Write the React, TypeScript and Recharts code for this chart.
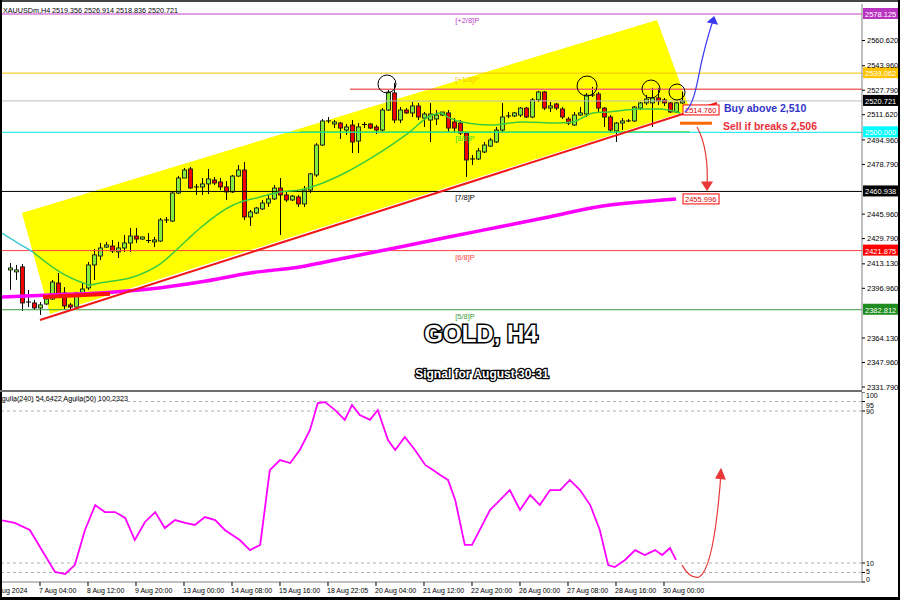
import React from "react";
import {
  ComposedChart,
  LineChart,
  Bar,
  Line,
  XAxis,
  YAxis,
  ReferenceLine,
  ReferenceDot,
  ReferenceArea,
} from "recharts";

document.body.style.margin = "0";

// H4 bars, numbered from 6 Aug 2024 00:00 (bar 0)
const opens = [
  2409.1, 2407.8, 2411.1, 2387.9, 2387.3, 2384.0, 2386.6, 2389.9, 2400.5, 2393.9,
  2386.0, 2384.6, 2393.9, 2397.2, 2412.4, 2418.3, 2424.2, 2424.9, 2421.0, 2423.6,
  2426.9, 2431.5, 2429.5, 2428.2, 2427.6, 2428.2, 2441.8, 2441.4, 2459.9, 2469.8,
  2475.8, 2463.9, 2463.9, 2465.9, 2468.5, 2467.2, 2463.9, 2460.6, 2471.1, 2475.1,
  2444.1, 2446.7, 2449.4, 2453.3, 2456.0, 2463.2, 2458.6, 2455.3, 2457.3, 2452.7,
  2461.9, 2471.8, 2491.6, 2507.5, 2505.5, 2506.1, 2501.5, 2504.8, 2494.2, 2504.8,
  2505.5, 2503.5, 2501.5, 2514.7, 2526.0, 2508.1, 2514.7, 2512.8, 2517.4, 2509.4,
  2508.1, 2508.8, 2511.4, 2512.8, 2506.8, 2506.1, 2499.5, 2482.4, 2482.4, 2487.0,
  2490.9, 2493.6, 2501.5, 2510.8, 2510.8, 2511.4, 2516.0, 2510.1, 2521.4, 2526.6,
  2516.0, 2518.7, 2515.4, 2508.8, 2504.8, 2511.4, 2512.1, 2524.6, 2525.3, 2516.0,
  2510.1, 2500.9, 2506.1, 2507.5, 2507.5, 2516.0, 2519.4, 2519.4, 2522.7, 2521.4,
  2519.4, 2513.4, 2519.356,
];
const highs = [
  2413.7, 2412.4, 2413.0, 2395.9, 2389.3, 2387.9, 2391.2, 2402.5, 2407.1, 2397.8,
  2387.3, 2394.5, 2400.5, 2414.4, 2422.9, 2426.9, 2427.6, 2428.9, 2427.6, 2432.2,
  2436.8, 2436.8, 2430.9, 2433.5, 2430.9, 2443.4, 2444.1, 2460.6, 2471.1, 2476.4,
  2477.1, 2465.9, 2469.8, 2475.8, 2470.5, 2469.8, 2467.8, 2471.8, 2478.4, 2480.4,
  2448.7, 2450.7, 2455.3, 2458.6, 2465.2, 2469.8, 2460.6, 2458.6, 2458.6, 2464.5,
  2473.1, 2492.9, 2508.8, 2510.1, 2508.1, 2506.8, 2505.5, 2508.1, 2506.1, 2506.8,
  2506.1, 2504.8, 2516.0, 2528.0, 2532.6, 2516.7, 2516.0, 2520.0, 2519.4, 2513.4,
  2519.4, 2514.7, 2513.4, 2514.7, 2509.4, 2508.1, 2500.2, 2485.0, 2489.6, 2493.6,
  2496.2, 2503.5, 2519.4, 2513.4, 2513.4, 2516.7, 2516.7, 2522.7, 2527.3, 2527.3,
  2520.0, 2519.4, 2516.7, 2510.1, 2513.4, 2516.7, 2525.9, 2529.9, 2526.6, 2516.7,
  2511.4, 2506.8, 2509.4, 2508.8, 2517.4, 2520.0, 2524.6, 2529.3, 2529.3, 2522.7,
  2520.0, 2520.0, 2526.914,
];
const lows = [
  2395.9, 2402.5, 2382.0, 2384.6, 2382.7, 2379.4, 2386.0, 2389.3, 2391.2, 2383.3,
  2383.3, 2383.3, 2392.6, 2395.9, 2402.5, 2415.7, 2423.6, 2420.3, 2417.0, 2421.0,
  2421.0, 2426.9, 2428.9, 2426.9, 2424.2, 2427.6, 2440.1, 2440.8, 2459.2, 2469.8,
  2462.6, 2458.6, 2458.6, 2459.2, 2465.2, 2461.9, 2455.3, 2459.9, 2470.5, 2442.1,
  2438.1, 2446.0, 2448.7, 2450.7, 2455.3, 2432.2, 2454.0, 2454.6, 2450.7, 2450.7,
  2459.9, 2470.5, 2490.9, 2506.1, 2502.8, 2495.6, 2498.2, 2486.3, 2486.3, 2502.8,
  2502.2, 2498.9, 2500.2, 2514.1, 2506.1, 2506.1, 2512.1, 2510.1, 2508.1, 2503.5,
  2493.6, 2504.8, 2510.8, 2500.2, 2499.5, 2498.2, 2470.5, 2478.4, 2481.7, 2486.3,
  2490.3, 2492.9, 2500.2, 2509.4, 2510.1, 2510.1, 2509.4, 2509.4, 2520.0, 2514.7,
  2513.4, 2514.7, 2508.8, 2504.8, 2504.2, 2510.8, 2510.1, 2523.3, 2513.4, 2503.5,
  2500.2, 2493.6, 2501.5, 2506.8, 2506.8, 2514.7, 2518.0, 2503.5, 2518.0, 2517.4,
  2512.8, 2512.8, 2518.836,
];
const closes = [
  2410.4, 2409.1, 2387.3, 2387.3, 2384.0, 2386.0, 2389.9, 2401.1, 2392.6, 2385.3,
  2384.6, 2393.9, 2396.5, 2412.4, 2419.0, 2423.6, 2425.6, 2421.6, 2423.6, 2426.9,
  2431.5, 2429.5, 2430.9, 2428.5, 2428.9, 2442.1, 2442.1, 2459.9, 2469.8, 2475.1,
  2463.2, 2463.5, 2465.9, 2469.2, 2466.5, 2463.9, 2460.6, 2471.1, 2475.1, 2444.1,
  2447.4, 2450.0, 2453.3, 2456.0, 2463.2, 2458.6, 2455.3, 2457.9, 2452.7, 2461.9,
  2472.5, 2491.6, 2507.5, 2507.1, 2506.8, 2502.8, 2503.5, 2493.6, 2503.5, 2505.1,
  2502.8, 2501.5, 2514.7, 2526.6, 2508.1, 2514.7, 2512.8, 2517.4, 2510.1, 2512.1,
  2512.1, 2511.4, 2513.4, 2502.8, 2502.8, 2499.5, 2481.7, 2482.0, 2487.7, 2491.6,
  2494.9, 2501.5, 2510.1, 2510.4, 2512.8, 2516.0, 2510.1, 2521.4, 2526.6, 2516.0,
  2517.4, 2516.0, 2510.1, 2506.1, 2511.4, 2512.8, 2524.6, 2524.3, 2516.0, 2510.1,
  2501.5, 2506.1, 2507.5, 2507.1, 2516.7, 2519.4, 2522.0, 2522.7, 2520.7, 2519.4,
  2513.4, 2519.4, 2520.721,
];
const candles = opens.map((o, i) => ({ n: i + 2, o, h: highs[i], l: lows[i], c: closes[i] }));

// moving averages (bar number, price)
const cyanMaPos = [0.33, 3, 5.8];
const cyanMaVal = [2434.2, 2427.6, 2421.0];
const greenMaPos = [5.8, 10.3, 14.2, 15.3, 17, 22.5, 27, 31.5, 33.7, 39.2, 43.7, 47, 50.3, 53.7, 57.8, 62.5, 68.2, 72, 73.7, 75.3, 78.2, 82, 87.5, 93.2, 95.8, 99.2, 101.5, 107, 110.3, 113.7];
const greenMaVal = [2421.0, 2407.8, 2400.5, 2399.2, 2400.5, 2404.4, 2413.0, 2428.9, 2436.8, 2452.0, 2457.3, 2460.6, 2461.9, 2465.9, 2473.1, 2483.7, 2498.9, 2510.8, 2512.8, 2509.4, 2506.1, 2504.8, 2506.8, 2506.1, 2506.8, 2512.8, 2513.4, 2515.4, 2515.4, 2512.8];
const slowMaPos = [0.33, 8.67, 17, 25.3, 33.7, 42, 50.3, 57.8, 67, 75.3, 83.7, 92, 99.8, 106, 113];
const slowMaVal = [2391.2, 2392.6, 2393.9, 2396.5, 2401.1, 2407.1, 2411.1, 2417.0, 2424.3, 2431.0, 2437.6, 2444.2, 2450.7, 2453.6, 2456.0];

// indicator (Aguila) values
const indPos = [0.33, 2.8, 5.3, 7.8, 9.5, 11.2, 12.8, 14.5, 16.2, 17.8, 19.5, 21.2, 22.8, 24.5, 26.2, 27.8, 29.5, 31.2, 32.8, 34.5, 36.2, 37.8, 40.3, 42, 43.7, 45.3, 47, 48.7, 50.3, 52, 53.3, 54.5, 56.2, 57.8, 59, 60.3, 62, 63.3, 65, 66.2, 67.8, 69.5, 71.2, 72.5, 73.7, 75, 76.2, 77.8, 79, 80.3, 82, 83.7, 85.3, 87, 88.7, 90.3, 92, 93.7, 95.3, 97, 98.7, 100.3, 101.7, 102.8, 104.5, 106.2, 107.8, 109.5, 110.7, 112, 113];
const indVal = [32.6, 31.1, 27.4, 14.2, 5.3, 4.2, 8.9, 27.4, 40.5, 36.8, 36.8, 33.7, 22.1, 31.6, 36.8, 28.4, 32.6, 31.1, 30.0, 34.2, 32.6, 27.4, 22.1, 16.8, 19.5, 58.9, 64.2, 62.6, 69.5, 80.0, 94.2, 94.7, 90.5, 85.3, 93.2, 87.9, 85.3, 90.5, 74.7, 69.5, 76.3, 69.5, 61.6, 58.9, 56.3, 53.7, 43.2, 19.5, 19.5, 27.4, 37.9, 43.2, 48.4, 37.9, 45.8, 40.5, 48.4, 48.4, 53.7, 48.4, 40.5, 27.4, 8.9, 7.9, 11.6, 16.8, 14.2, 16.8, 14.2, 17.9, 11.6];

const priceTicks = [2560.62, 2543.96, 2527.79, 2511.62, 2494.96, 2478.79, 2445.96, 2429.79, 2413.13, 2396.96, 2364.13, 2347.96, 2331.79];
const timeTickPos = [0.667, 7, 15, 23, 31, 39, 47, 55, 63, 71, 79, 87, 95, 103, 111];
const timeTickLabels = ["6 Aug 2024", "7 Aug 04:00", "8 Aug 12:00", "9 Aug 20:00", "13 Aug 00:00", "14 Aug 08:00", "15 Aug 16:00", "18 Aug 22:05", "20 Aug 04:00", "21 Aug 12:00", "22 Aug 20:00", "26 Aug 00:00", "27 Aug 08:00", "28 Aug 16:00", "30 Aug 00:00"];
const indTicks = [0, 5, 10, 90, 95, 100];

// Murrey levels
const levelPrices = [2578.125, 2539.062, 2460.938, 2421.875, 2382.812];
const levelNames = ["[+2/8]P", "[+1/8]P", "[7/8]P", "[6/8]P", "[5/8]P"];
const levelColors = ["#C23CC8", "#F2C200", "#000000", "#FF4040", "#3A9A3A"];
const levelBoxColors = ["#B833C0", "#FFC400", "#000000", "#FF0000", "#1E8C1E"];

// channel polygon and trend line (bar number, price)
const channelPos = [4, 109.83, 115.33, 8.67];
const channelVal = [2446.7, 2574.16, 2514.73, 2380.0];
const trendPos = [7, 119.83];
const trendVal = [2376.04, 2519.35];
const circlePos = [64.83, 98.17, 108.83, 113.17];
const circleVal = [2531.9, 2530.57, 2528.59, 2526.61];
const circleR = [9, 10, 9, 8];

const X0 = 0.667;
const X1 = 144;
const P0 = 2329.81;
const P1 = 2584.73;
const FONT = "'Liberation Sans', Arial, sans-serif";

const toPts = (pos: number[], val: number[]) => pos.map((n, i) => ({ n, v: val[i] }));

const Candle = (props: any) => {
  const { x, y, width, height, payload } = props;
  const { o, h, l, c } = payload;
  const span = h - l || 1;
  const py = (v: number) => y + ((h - v) / span) * height;
  const cx = Math.round(x + width / 2) + 0.5;
  const top = py(Math.max(o, c));
  const bot = py(Math.min(o, c));
  const up = c >= o;
  return (
    <g>
      <line x1={cx} x2={cx} y1={y} y2={y + height} stroke="#000" strokeWidth={1} />
      {bot - top < 1.2 ? (
        <line x1={cx - 2.5} x2={cx + 2.5} y1={top} y2={top} stroke="#000" strokeWidth={1} />
      ) : (
        <rect x={cx - 2} y={top} width={4} height={bot - top} fill={up ? "#86EE3A" : "#F20000"} stroke="#1a1a1a" strokeWidth={0.9} />
      )}
    </g>
  );
};

const AxisBox = (props: any) => {
  const { viewBox, bg, text, fg } = props;
  const x = viewBox.x + viewBox.width + 1;
  const y = viewBox.y;
  return (
    <g>
      <rect x={x} y={y - 6} width={36} height={11} fill={bg} />
      <text x={x + 2} y={y + 3} fontSize={7.5} fill={fg || "#fff"} fontFamily={FONT}>{text}</text>
    </g>
  );
};

const TimeTick = (props: any) => {
  const { x, y, payload } = props;
  const i = timeTickPos.indexOf(payload.value);
  const first = i === 0;
  return (
    <g>
      {!first && <line x1={x} x2={x} y1={y} y2={y + 4} stroke="#000" />}
      <text x={first ? x - 10 : x - 1} y={y + 11} fontSize={7} fill="#000" fontFamily={FONT}>{timeTickLabels[i]}</text>
    </g>
  );
};

const IndTick = (props: any) => {
  const { x, y, payload } = props;
  const v = payload.value;
  const dy = v === 100 ? 3 : v === 95 ? 3 : v === 5 ? -1.5 : v === 0 ? -3 : 0;
  return (
    <text x={x} y={y + dy + 3} fontSize={7} fill="#000" fontFamily={FONT}>{v}</text>
  );
};

const ChannelShape = (props: any) => {
  const { x, y, width, height } = props;
  const nMin = Math.min(...channelPos);
  const nMax = Math.max(...channelPos);
  const pMin = Math.min(...channelVal);
  const pMax = Math.max(...channelVal);
  const pts = channelPos
    .map((n, i) => {
      const px = x + ((n - nMin) / (nMax - nMin)) * width;
      const py = y + ((pMax - channelVal[i]) / (pMax - pMin)) * height;
      return `${px},${py}`;
    })
    .join(" ");
  return <polygon points={pts} fill="#FFFF00" stroke="none" />;
};

const TrendBox = (text: string) => (props: any) => {
  const { cx, cy } = props;
  return (
    <g>
      <rect x={cx} y={cy - 5} width={36} height={10} fill="#fff" stroke="#FF0000" strokeWidth={1} />
      <text x={cx + 2} y={cy + 3} fontSize={7.5} fill="#E00000" fontFamily={FONT}>{text}</text>
    </g>
  );
};

const LevelText = (text: string, color: string) => (props: any) => (
  <text x={props.cx} y={props.cy + 9} fontSize={7.5} fill={color} fontFamily={FONT}>{text}</text>
);

const BlueArrow = (props: any) => {
  const { cx, cy } = props;
  return (
    <g fill="none" stroke="#3838F0" strokeWidth={1.2}>
      <path d={`M${cx},${cy} C${cx + 10},${cy - 8} ${cx + 13},${cy - 35} ${cx + 17},${cy - 52} S${cx + 26},${cy - 86} ${cx + 29},${cy - 94}`} />
      <path d={`M${cx + 29},${cy - 95} l-6,5 l9,2 z`} fill="#3838F0" />
    </g>
  );
};

const RedArrowDown = (props: any) => {
  const { cx, cy } = props;
  return (
    <g fill="none" stroke="#E83838" strokeWidth={1.2}>
      <path d={`M${cx},${cy} Q${cx + 12},${cy + 22} ${cx + 10},${cy + 60}`} />
      <path d={`M${cx + 10},${cy + 63} l-5,-8 l10,0 z`} fill="#E83838" />
    </g>
  );
};

const RedArrowUp = (props: any) => {
  const { cx, cy } = props;
  return (
    <g fill="none" stroke="#E83838" strokeWidth={1.2}>
      <path d={`M${cx},${cy} Q${cx + 8},${cy + 14} ${cx + 17},${cy + 12} Q${cx + 32},${cy + 4} ${cx + 39},${cy - 92}`} />
      <path d={`M${cx + 39},${cy - 96} l-5,9 l9,1 z`} fill="#E83838" />
    </g>
  );
};

export default function App() {
  return (
    <div style={{ position: "relative", width: 900, height: 600, background: "#fff", overflow: "hidden", fontFamily: FONT }}>
      <div style={{ position: "absolute", left: 0, top: 0 }}>
        <ComposedChart width={900} height={392} data={candles} margin={{ top: 4, right: 2, bottom: 2, left: 2 }}>
          <XAxis dataKey="n" type="number" domain={[X0, X1]} hide allowDataOverflow />
          <YAxis
            orientation="right"
            width={36}
            type="number"
            domain={[P0, P1]}
            allowDataOverflow
            ticks={priceTicks}
            interval={0}
            tickFormatter={(v: number) => v.toFixed(3)}
            tick={{ fontSize: 7.5, fill: "#000", fontFamily: FONT }}
            tickSize={3}
            tickMargin={2}
            tickLine={{ stroke: "#000" }}
            axisLine={{ stroke: "#808080" }}
          />
          <ReferenceArea
            x1={Math.min(...channelPos)}
            x2={Math.max(...channelPos)}
            y1={Math.min(...channelVal)}
            y2={Math.max(...channelVal)}
            shape={ChannelShape}
            ifOverflow="visible"
          />
          {levelPrices.map((p, i) => (
            <ReferenceLine
              key={`lv${i}`}
              y={p}
              stroke={levelColors[i]}
              strokeWidth={1}
              label={(lp: any) => <AxisBox {...lp} bg={levelBoxColors[i]} text={p.toFixed(3)} />}
            />
          ))}
          <ReferenceLine y={2500} stroke="#00E5EE" strokeWidth={1} label={(lp: any) => <AxisBox {...lp} bg="#00FFFF" text="2500.000" />} />
          <ReferenceLine segment={[{ x: 50.3, y: 2500.3 }, { x: 115.3, y: 2500.3 }]} stroke="#33DD33" strokeWidth={1} />
          <ReferenceLine y={2520.721} stroke="#BDBDBD" strokeWidth={1} label={(lp: any) => <AxisBox {...lp} bg="#000" text="2520.721" />} />
          <ReferenceLine segment={[{ x: 58.67, y: 2528.5 }, { x: X1, y: 2528.5 }]} stroke="#F06A6A" strokeWidth={1.5} />
          {levelPrices.map((p, i) => (
            <ReferenceDot key={`lt${i}`} x={76.2} y={p} r={0} shape={LevelText(levelNames[i], levelColors[i])} />
          ))}
          <ReferenceDot x={76.2} y={2500} r={0} shape={LevelText("[8/8]P", "#33DD33")} />
          <Line data={toPts(slowMaPos, slowMaVal)} dataKey="v" type="monotone" stroke="#FF00FF" strokeWidth={3.5} dot={false} isAnimationActive={false} />
          <Line data={toPts(cyanMaPos, cyanMaVal)} dataKey="v" type="monotone" stroke="#3CC8D2" strokeWidth={1.5} dot={false} isAnimationActive={false} />
          <Line data={toPts(greenMaPos, greenMaVal)} dataKey="v" type="monotone" stroke="#3CCB3C" strokeWidth={1.5} dot={false} isAnimationActive={false} />
          <ReferenceLine segment={[{ x: 7.5, y: 2391.2 }, { x: 18.67, y: 2393.4 }]} stroke="#FF1010" strokeWidth={4} />
          <ReferenceLine segment={[{ x: trendPos[0], y: trendVal[0] }, { x: trendPos[1], y: trendVal[1] }]} stroke="#F01818" strokeWidth={2} />
          <Bar dataKey={(d: any) => [d.l, d.h]} barSize={5} shape={Candle} isAnimationActive={false} />
          {circlePos.map((n, i) => (
            <ReferenceDot key={`c${i}`} x={n} y={circleVal[i]} r={circleR[i]} fill="none" stroke="#000" strokeWidth={1} />
          ))}
          <ReferenceLine segment={[{ x: 113.67, y: 2506 }, { x: 119, y: 2506 }]} stroke="#FF6A00" strokeWidth={3} />
          <ReferenceDot x={114.17} y={2514.76} r={0} shape={TrendBox("2514.760")} />
          <ReferenceDot x={114.17} y={2455.996} r={0} shape={TrendBox("2455.996")} />
          <ReferenceDot x={114.5} y={2513.4} r={0} shape={BlueArrow} />
          <ReferenceDot x={116.5} y={2503.5} r={0} shape={RedArrowDown} />
        </ComposedChart>
      </div>
      <div style={{ position: "absolute", left: 0, top: 392 }}>
        <LineChart width={900} height={208} data={toPts(indPos, indVal)} margin={{ top: 0, right: 2, bottom: 0, left: 2 }}>
          <XAxis
            dataKey="n"
            type="number"
            domain={[X0, X1]}
            allowDataOverflow
            ticks={timeTickPos}
            interval={0}
            height={18}
            tickSize={0}
            tickMargin={0}
            tick={TimeTick}
            tickLine={false}
            axisLine={{ stroke: "#808080" }}
          />
          <YAxis
            orientation="right"
            width={36}
            type="number"
            domain={[0, 100]}
            ticks={indTicks}
            interval={0}
            tick={IndTick}
            tickSize={3}
            tickMargin={1}
            tickLine={{ stroke: "#000" }}
            axisLine={{ stroke: "#808080" }}
          />
          {[95, 90, 10, 5].map((v) => (
            <ReferenceLine key={v} y={v} stroke="#B0B0B0" strokeDasharray="3 3" />
          ))}
          <Line dataKey="v" type="linear" stroke="#FF00FF" strokeWidth={1.8} dot={false} isAnimationActive={false} />
          <ReferenceDot x={114} y={8.9} r={0} shape={RedArrowUp} />
        </LineChart>
      </div>
      <svg width={900} height={600} style={{ position: "absolute", left: 0, top: 0, pointerEvents: "none" }}>
        <line x1={0} x2={900} y1={1} y2={1} stroke="#444" strokeWidth={2} />
        <line x1={1} x2={1} y1={0} y2={600} stroke="#000" strokeWidth={2} />
        <line x1={0} x2={900} y1={598.5} y2={598.5} stroke="#000" strokeWidth={3} />
        <line x1={899} x2={899} y1={0} y2={600} stroke="#000" strokeWidth={2} />
        <line x1={0} x2={862} y1={391} y2={391} stroke="#6E6E6E" strokeWidth={2} />
        <text x={3} y={12.5} fontSize={7.2} fill="#000" fontFamily={FONT}>XAUUSDm,H4  2519.356 2526.914 2518.836 2520.721</text>
        <text x={-3} y={401} fontSize={7.2} fill="#000" fontFamily={FONT}>Aguila(240) 54.6422  Aguila(50) 100.2323</text>
        <text x={481} y={342} textAnchor="middle" fontSize={24} fontWeight="bold" fill="#fff" stroke="#000" strokeWidth={3} paintOrder="stroke" fontFamily={FONT}>GOLD, H4</text>
        <text x={482} y={378} textAnchor="middle" fontSize={12} fontWeight="bold" fill="#fff" stroke="#000" strokeWidth={2.5} paintOrder="stroke" fontFamily={FONT}>Signal for August 30-31</text>
        <text x={724} y={112} fontSize={10.5} fontWeight="bold" fill="#3434C8" fontFamily={FONT}>Buy above 2,510</text>
        <text x={723} y={130} fontSize={10.5} fontWeight="bold" fill="#E8303C" fontFamily={FONT}>Sell if breaks 2,506</text>
      </svg>
    </div>
  );
}
